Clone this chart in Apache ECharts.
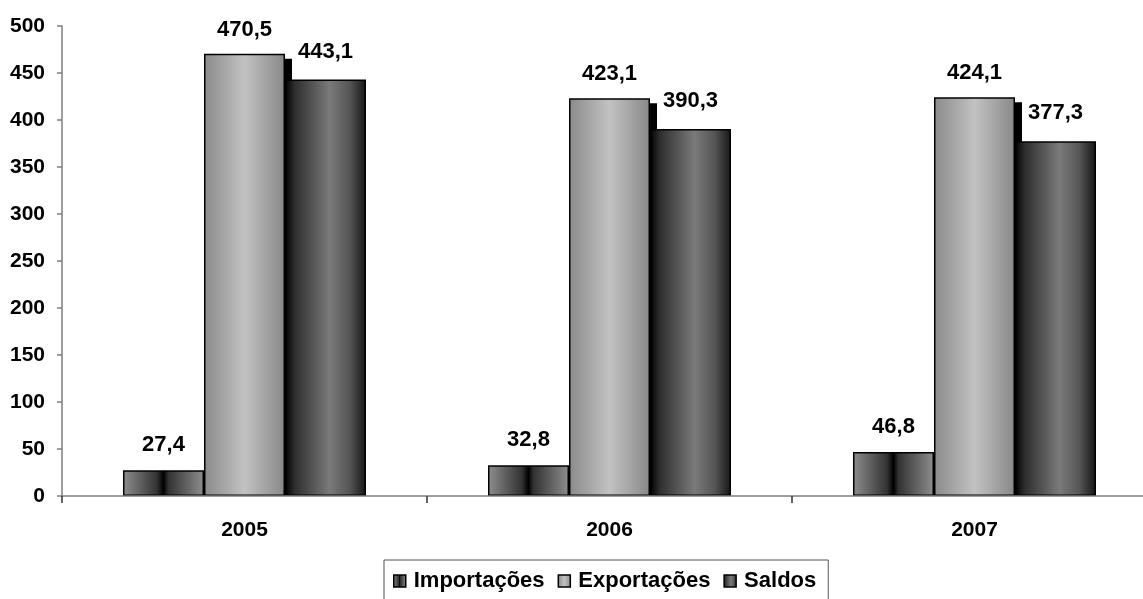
<!DOCTYPE html>
<html>
<head>
<meta charset="utf-8">
<script src="https://cdn.jsdelivr.net/npm/echarts@6/dist/echarts.min.js"></script>
<style>
html,body{margin:0;padding:0;background:#fff;}
#chart{width:1143px;height:599px;}
</style>
</head>
<body>
<div id="chart"></div>
<script>
const categories = ['2005', '2006', '2007'];
const seriesNames = ['Importações', 'Exportações', 'Saldos'];
const importacoes = [27.4, 32.8, 46.8];
const exportacoes = [470.5, 423.1, 424.1];
const saldos = [443.1, 390.3, 377.3];
const yTicks = { min: 0, max: 500, interval: 50 };

const FONT = 'Liberation Sans, Arial, sans-serif';
const BAR_W = 81;

function grad(stops) {
  return {
    type: 'linear', x: 0, y: 0, x2: 1, y2: 0,
    colorStops: stops.map(s => ({ offset: s[0], color: s[1] }))
  };
}
const fills = [
  grad([[0, '#8e8e8e'], [0.42, '#333333'], [0.5, '#000000'], [0.56, '#333333'], [1, '#8e8e8e']]),
  grad([[0, '#8a8a8a'], [0.5, '#c2c2c2'], [1, '#888888']]),
  grad([[0, '#000000'], [0.12, '#2e2e2e'], [0.55, '#7a7a7a'], [0.8, '#555555'], [1, '#151515']])
];
const fmt = p => p.value.toFixed(1).replace('.', ',');

const dataSets = [importacoes, exportacoes, saldos];
const labelDist = [14, 13, 17];

const series = dataSets.map((d, i) => ({
  name: seriesNames[i],
  type: 'bar',
  data: d,
  barWidth: BAR_W,
  barGap: '0%',
  z: 3,
  itemStyle: {
    color: fills[i],
    borderColor: '#000',
    borderWidth: 1.5
  },
  label: {
    show: true,
    position: 'top',
    distance: labelDist[i],
    formatter: fmt,
    fontFamily: FONT,
    fontWeight: 'bold',
    fontSize: 22,
    color: '#000'
  },
  emphasis: { disabled: true },
  animation: false
}));

// drop shadow behind the Exportações bars (drawn from the same data via the axis scales)
series.push({
  type: 'custom',
  name: 'sombra',
  z: 1,
  silent: true,
  data: exportacoes.map((v, i) => [i, v]),
  renderItem: function (params, api) {
    const top = api.coord([api.value(0), api.value(1)]);
    const base = api.coord([api.value(0), 0]);
    const x = top[0] - BAR_W / 2 + 7;
    const y = top[1] + 5;
    return {
      type: 'rect',
      shape: { x: x, y: y, width: BAR_W, height: base[1] - y },
      style: { fill: '#000' }
    };
  },
  animation: false
});

const chart = echarts.init(document.getElementById('chart'), null, { renderer: 'canvas' });
chart.setOption({
  backgroundColor: '#fff',
  animation: false,
  grid: { left: 62, top: 26, right: -14, bottom: 103, containLabel: false, outerBoundsMode: 'none' },
  xAxis: {
    type: 'category',
    data: categories,
    z: 5,
    axisLine: { lineStyle: { color: '#7f7f7f', width: 1.5 } },
    axisTick: { show: true, length: 7, lineStyle: { color: '#333', width: 1.5 } },
    axisLabel: { margin: 24, fontFamily: FONT, fontWeight: 'bold', fontSize: 21, color: '#000' },
    splitLine: { show: false }
  },
  yAxis: {
    type: 'value',
    min: yTicks.min, max: yTicks.max, interval: yTicks.interval,
    axisLine: { show: true, lineStyle: { color: '#7f7f7f', width: 1.5 } },
    axisTick: { show: true, length: 5, lineStyle: { color: '#7f7f7f', width: 1.5 } },
    axisLabel: { margin: 17, fontFamily: FONT, fontWeight: 'bold', fontSize: 21, color: '#000' },
    splitLine: { show: false }
  },
  legend: {
    left: 384,
    top: 560,
    icon: 'rect',
    itemWidth: 12,
    itemHeight: 12,
    itemGap: 13,
    padding: [10, 12, 30, 9],
    borderColor: '#555',
    borderWidth: 1,
    selectedMode: false,
    textStyle: { fontFamily: FONT, fontWeight: 'bold', fontSize: 22, color: '#000', padding: [0, 0, 0, 3] },
    data: seriesNames.map(n => ({ name: n, itemStyle: { borderColor: '#000', borderWidth: 1.5 } }))
  },
  series: series
});
</script>
</body>
</html>
